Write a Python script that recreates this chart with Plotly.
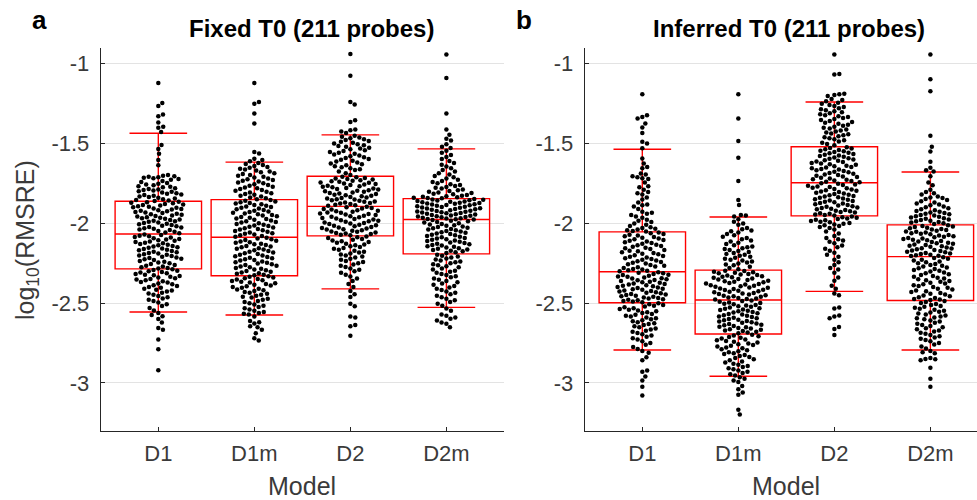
import math
import plotly.graph_objects as go

# ---------------- data ----------------
models = ["D1", "D1m", "D2", "D2m"]
y_ticks = [-3, -2.5, -2, -1.5, -1]
y_tick_text = ["-3", "-2.5", "-2", "-1.5", "-1"]

fixed_D1 = [-1.121, -1.246, -1.265, -1.319, -1.330, -1.369, -1.396, -1.402, -1.428,
    -1.510, -1.534, -1.565, -1.604, -1.636, -1.698, -1.702, -1.705, -1.708, -1.712, -1.715, -1.718, -1.722,
    -1.728, -1.735, -1.742, -1.748, -1.752, -1.758, -1.762, -1.768, -1.772, -1.775, -1.780, -1.785, -1.788,
    -1.792, -1.795, -1.800, -1.803, -1.808, -1.812, -1.815, -1.820, -1.823, -1.828, -1.832, -1.836, -1.840,
    -1.845, -1.850, -1.855, -1.858, -1.861,
    -1.865, -1.868, -1.871, -1.874, -1.879, -1.882, -1.886, -1.889, -1.893, -1.897, -1.900, -1.903, -1.907,
    -1.911, -1.914, -1.918, -1.921, -1.925, -1.929, -1.932, -1.936, -1.940, -1.943, -1.947, -1.951, -1.955,
    -1.958, -1.962, -1.966, -1.969, -1.972, -1.976, -1.980, -1.984, -1.988, -1.991, -1.995, -1.999, -2.003,
    -2.007, -2.011, -2.015, -2.019, -2.023, -2.027, -2.031, -2.035, -2.039, -2.043, -2.048, -2.053, -2.058, -2.063,
    -2.070, -2.074, -2.078, -2.082, -2.086, -2.090, -2.094, -2.098, -2.102, -2.106, -2.110, -2.114, -2.118,
    -2.122, -2.126, -2.130, -2.134, -2.138, -2.142, -2.146, -2.150, -2.154, -2.158, -2.162, -2.166, -2.170,
    -2.174, -2.178, -2.182, -2.186, -2.190, -2.194, -2.198, -2.202, -2.206, -2.210, -2.214, -2.218, -2.222,
    -2.226, -2.231, -2.236, -2.241, -2.246, -2.251, -2.256, -2.261, -2.266, -2.271, -2.276, -2.280, -2.284,
    -2.289, -2.293, -2.297, -2.301, -2.306, -2.309, -2.313, -2.318, -2.322, -2.326, -2.331, -2.335, -2.340,
    -2.344, -2.349, -2.353, -2.358, -2.363, -2.368, -2.372, -2.377, -2.383, -2.388, -2.393, -2.399, -2.404,
    -2.410, -2.416, -2.422, -2.428, -2.435, -2.441, -2.448, -2.456, -2.463, -2.471, -2.479, -2.488, -2.497,
    -2.507, -2.518, -2.531, -2.547,
    -2.562, -2.575, -2.583, -2.600, -2.622, -2.656, -2.668, -2.729, -2.790, -2.921]

fixed_D1m = [-1.121, -1.240, -1.252, -1.313, -1.375, -1.553, -1.563, -1.596, -1.603, -1.611,
    -1.622, -1.628, -1.635, -1.641, -1.648, -1.652, -1.659, -1.664, -1.670, -1.676, -1.681, -1.687, -1.692,
    -1.697, -1.703, -1.708, -1.713, -1.719, -1.724, -1.729, -1.734, -1.739, -1.745, -1.750, -1.755, -1.760,
    -1.765, -1.771, -1.776, -1.781, -1.786, -1.791, -1.797, -1.802, -1.807, -1.812, -1.817, -1.822, -1.828,
    -1.833, -1.839, -1.844, -1.849,
    -1.855, -1.859, -1.864, -1.868, -1.873, -1.877, -1.881, -1.886, -1.890, -1.895, -1.899, -1.903, -1.908,
    -1.912, -1.917, -1.921, -1.926, -1.930, -1.934, -1.939, -1.943, -1.948, -1.952, -1.956, -1.961, -1.965,
    -1.970, -1.974, -1.978, -1.983, -1.987, -1.992, -1.996, -2.000, -2.005, -2.009, -2.014, -2.018, -2.022,
    -2.027, -2.031, -2.036, -2.040, -2.044, -2.049, -2.053, -2.058, -2.062, -2.066, -2.071, -2.075, -2.080, -2.084,
    -2.091, -2.095, -2.100, -2.105, -2.109, -2.114, -2.119, -2.123, -2.128, -2.132, -2.137, -2.142, -2.146,
    -2.151, -2.156, -2.160, -2.165, -2.170, -2.174, -2.179, -2.183, -2.188, -2.193, -2.197, -2.202, -2.207,
    -2.211, -2.216, -2.220, -2.225, -2.230, -2.234, -2.239, -2.244, -2.248, -2.253, -2.257, -2.262, -2.267,
    -2.271, -2.276, -2.281, -2.285, -2.290, -2.294, -2.299, -2.304, -2.308, -2.313, -2.317, -2.322, -2.326,
    -2.332, -2.336, -2.340, -2.345, -2.349, -2.353, -2.358, -2.362, -2.367, -2.371, -2.376, -2.381, -2.385,
    -2.390, -2.395, -2.400, -2.405, -2.410, -2.415, -2.420, -2.425, -2.431, -2.436, -2.442, -2.448, -2.454,
    -2.460, -2.466, -2.473, -2.480, -2.487, -2.494, -2.501, -2.509, -2.517, -2.525, -2.533, -2.541, -2.549,
    -2.556, -2.562, -2.567, -2.572,
    -2.585, -2.612, -2.620, -2.628, -2.645, -2.652, -2.668, -2.690, -2.720, -2.735]

fixed_D2 = [-0.940, -1.075, -1.240, -1.256, -1.355, -1.365, -1.412, -1.418, -1.425, -1.434,
    -1.452, -1.458, -1.463, -1.468, -1.474, -1.479, -1.484, -1.489, -1.495, -1.500, -1.505, -1.511, -1.516,
    -1.521, -1.527, -1.532, -1.537, -1.543, -1.548, -1.553, -1.559, -1.564, -1.570, -1.575, -1.580, -1.586,
    -1.591, -1.597, -1.602, -1.608, -1.613, -1.619, -1.625, -1.631, -1.637, -1.643, -1.649, -1.655, -1.661,
    -1.667, -1.675, -1.686, -1.698,
    -1.709, -1.712, -1.716, -1.719, -1.723, -1.726, -1.730, -1.733, -1.737, -1.740, -1.744, -1.747, -1.751,
    -1.754, -1.758, -1.761, -1.765, -1.768, -1.772, -1.775, -1.779, -1.782, -1.786, -1.789, -1.793, -1.796,
    -1.800, -1.803, -1.807, -1.810, -1.814, -1.817, -1.821, -1.824, -1.828, -1.831, -1.835, -1.838, -1.842,
    -1.845, -1.849, -1.852, -1.856, -1.859, -1.863, -1.866, -1.870, -1.873, -1.877, -1.880, -1.884, -1.887, -1.891,
    -1.897, -1.900, -1.904, -1.907, -1.911, -1.914, -1.918, -1.921, -1.925, -1.928, -1.932, -1.935, -1.939,
    -1.942, -1.946, -1.949, -1.953, -1.956, -1.960, -1.963, -1.967, -1.970, -1.974, -1.977, -1.981, -1.984,
    -1.988, -1.991, -1.995, -1.998, -2.002, -2.005, -2.009, -2.012, -2.016, -2.019, -2.023, -2.026, -2.030,
    -2.033, -2.037, -2.040, -2.044, -2.047, -2.051, -2.054, -2.058, -2.061, -2.065, -2.068, -2.072, -2.076,
    -2.083, -2.088, -2.093, -2.098, -2.103, -2.108, -2.113, -2.118, -2.123, -2.128, -2.133, -2.138, -2.144,
    -2.149, -2.155, -2.160, -2.166, -2.172, -2.178, -2.184, -2.190, -2.196, -2.202, -2.208, -2.215, -2.222,
    -2.229, -2.236, -2.243, -2.250, -2.258, -2.266, -2.274, -2.283, -2.292, -2.301, -2.311, -2.322, -2.334,
    -2.347, -2.362, -2.380, -2.400,
    -2.425, -2.445, -2.462, -2.505, -2.520, -2.585, -2.590, -2.638, -2.645, -2.705]

fixed_D2m = [-0.942, -1.090, -1.313, -1.413, -1.445, -1.470, -1.482, -1.505, -1.520, -1.528,
    -1.545, -1.558, -1.572, -1.585, -1.598, -1.610, -1.622, -1.634, -1.645, -1.656, -1.666, -1.676, -1.686,
    -1.695, -1.704, -1.712, -1.720, -1.728, -1.735, -1.742, -1.749, -1.755, -1.761, -1.767, -1.773, -1.778,
    -1.783, -1.788, -1.793, -1.798, -1.803, -1.807, -1.811, -1.815, -1.819, -1.823, -1.827, -1.831, -1.834,
    -1.837, -1.840, -1.842, -1.844,
    -1.848, -1.851, -1.853, -1.856, -1.858, -1.861, -1.863, -1.866, -1.868, -1.871, -1.873, -1.876, -1.878,
    -1.881, -1.883, -1.886, -1.888, -1.891, -1.893, -1.896, -1.898, -1.901, -1.903, -1.906, -1.908, -1.911,
    -1.913, -1.916, -1.918, -1.921, -1.923, -1.926, -1.928, -1.931, -1.933, -1.936, -1.938, -1.941, -1.943,
    -1.946, -1.948, -1.951, -1.953, -1.956, -1.958, -1.961, -1.963, -1.966, -1.968, -1.971, -1.973, -1.975, -1.976,
    -1.980, -1.984, -1.988, -1.992, -1.996, -2.000, -2.004, -2.008, -2.012, -2.016, -2.020, -2.024, -2.028,
    -2.032, -2.036, -2.040, -2.044, -2.048, -2.052, -2.056, -2.060, -2.064, -2.068, -2.072, -2.076, -2.080,
    -2.084, -2.088, -2.092, -2.096, -2.100, -2.104, -2.108, -2.112, -2.116, -2.120, -2.124, -2.128, -2.132,
    -2.136, -2.140, -2.144, -2.148, -2.152, -2.156, -2.160, -2.164, -2.168, -2.172, -2.176, -2.181, -2.187,
    -2.197, -2.203, -2.209, -2.215, -2.221, -2.227, -2.233, -2.239, -2.245, -2.251, -2.257, -2.263, -2.269,
    -2.276, -2.283, -2.290, -2.297, -2.304, -2.311, -2.318, -2.325, -2.332, -2.339, -2.346, -2.354, -2.362,
    -2.370, -2.378, -2.386, -2.394, -2.402, -2.410, -2.418, -2.427, -2.436, -2.445, -2.454, -2.463, -2.473,
    -2.483, -2.494, -2.505, -2.517,
    -2.535, -2.548, -2.572, -2.580, -2.590, -2.598, -2.610, -2.622, -2.630, -2.652]

inferred_D1 = [-1.192, -1.323, -1.334, -1.344, -1.375, -1.400, -1.434, -1.490, -1.500, -1.530,
    -1.594, -1.625, -1.648, -1.655, -1.688, -1.695, -1.705, -1.712, -1.718, -1.722, -1.745, -1.768, -1.775,
    -1.790, -1.805, -1.812, -1.820, -1.838, -1.852, -1.870, -1.882, -1.888, -1.895, -1.910, -1.928, -1.935,
    -1.940, -1.948, -1.958, -1.965, -1.978, -1.985, -1.992, -2.002, -2.010, -2.018, -2.025, -2.030, -2.035,
    -2.040, -2.044, -2.048, -2.051,
    -2.058, -2.062, -2.067, -2.072, -2.077, -2.081, -2.086, -2.091, -2.096, -2.100, -2.105, -2.110, -2.115,
    -2.119, -2.124, -2.129, -2.134, -2.138, -2.143, -2.148, -2.153, -2.157, -2.162, -2.167, -2.172, -2.176,
    -2.181, -2.186, -2.191, -2.195, -2.200, -2.205, -2.210, -2.214, -2.219, -2.224, -2.229, -2.233, -2.238,
    -2.243, -2.248, -2.252, -2.257, -2.262, -2.267, -2.271, -2.276, -2.281, -2.286, -2.290, -2.294, -2.298, -2.301,
    -2.307, -2.311, -2.314, -2.318, -2.322, -2.325, -2.329, -2.333, -2.336, -2.340, -2.344, -2.347, -2.351,
    -2.355, -2.358, -2.362, -2.366, -2.369, -2.373, -2.377, -2.380, -2.384, -2.388, -2.391, -2.395, -2.399,
    -2.402, -2.406, -2.410, -2.413, -2.417, -2.421, -2.424, -2.428, -2.432, -2.435, -2.439, -2.443, -2.446,
    -2.450, -2.454, -2.457, -2.461, -2.465, -2.468, -2.472, -2.476, -2.479, -2.483, -2.487, -2.491, -2.495,
    -2.502, -2.507, -2.512, -2.517, -2.522, -2.527, -2.532, -2.537, -2.542, -2.547, -2.552, -2.557, -2.563,
    -2.568, -2.574, -2.579, -2.585, -2.590, -2.596, -2.602, -2.608, -2.614, -2.620, -2.626, -2.632, -2.638,
    -2.645, -2.652, -2.659, -2.666, -2.673, -2.680, -2.687, -2.695, -2.703, -2.711, -2.720, -2.729, -2.739,
    -2.750, -2.762, -2.775, -2.788,
    -2.800, -2.812, -2.840, -2.858, -2.922, -2.930, -2.960, -2.985, -3.025, -3.080]

inferred_D1m = [-1.192, -1.344, -1.484, -1.590, -1.736, -1.855, -1.886, -1.948, -1.952, -1.958,
    -1.975, -1.990, -2.002, -2.010, -2.030, -2.038, -2.045, -2.050, -2.058, -2.068, -2.075, -2.085, -2.092,
    -2.100, -2.108, -2.115, -2.122, -2.130, -2.138, -2.145, -2.150, -2.156, -2.162, -2.168, -2.174, -2.180,
    -2.186, -2.192, -2.198, -2.204, -2.210, -2.216, -2.222, -2.228, -2.234, -2.240, -2.246, -2.252, -2.258,
    -2.264, -2.272, -2.280, -2.288,
    -2.297, -2.300, -2.304, -2.307, -2.311, -2.314, -2.318, -2.321, -2.325, -2.328, -2.332, -2.335, -2.339,
    -2.342, -2.346, -2.349, -2.353, -2.356, -2.360, -2.363, -2.367, -2.370, -2.374, -2.377, -2.381, -2.384,
    -2.388, -2.391, -2.395, -2.398, -2.402, -2.405, -2.409, -2.412, -2.416, -2.419, -2.423, -2.426, -2.430,
    -2.433, -2.437, -2.440, -2.444, -2.447, -2.451, -2.454, -2.458, -2.461, -2.465, -2.468, -2.472, -2.475, -2.478,
    -2.484, -2.488, -2.492, -2.496, -2.500, -2.504, -2.508, -2.512, -2.516, -2.520, -2.524, -2.528, -2.532,
    -2.536, -2.540, -2.544, -2.548, -2.552, -2.556, -2.560, -2.564, -2.568, -2.572, -2.576, -2.580, -2.584,
    -2.588, -2.592, -2.596, -2.600, -2.604, -2.608, -2.612, -2.616, -2.620, -2.624, -2.628, -2.632, -2.636,
    -2.640, -2.644, -2.648, -2.652, -2.656, -2.660, -2.664, -2.668, -2.672, -2.676, -2.680, -2.685, -2.690,
    -2.698, -2.703, -2.708, -2.713, -2.718, -2.723, -2.728, -2.733, -2.738, -2.743, -2.748, -2.753, -2.758,
    -2.763, -2.768, -2.773, -2.778, -2.784, -2.790, -2.796, -2.802, -2.808, -2.814, -2.820, -2.826, -2.832,
    -2.838, -2.845, -2.852, -2.859, -2.866, -2.873, -2.880, -2.887, -2.894, -2.901, -2.908, -2.915, -2.922,
    -2.930, -2.938, -2.946, -2.954,
    -2.965, -2.975, -2.985, -2.995, -3.020, -3.040, -3.060, -3.075, -3.168, -3.198]

inferred_D2 = [-0.942, -1.065, -1.068, -1.188, -1.192, -1.196, -1.202, -1.222, -1.228, -1.236,
    -1.245, -1.252, -1.259, -1.266, -1.272, -1.279, -1.285, -1.292, -1.298, -1.304, -1.311, -1.317, -1.323,
    -1.329, -1.335, -1.341, -1.347, -1.353, -1.359, -1.365, -1.371, -1.377, -1.383, -1.389, -1.395, -1.401,
    -1.407, -1.413, -1.419, -1.425, -1.431, -1.437, -1.443, -1.449, -1.455, -1.461, -1.467, -1.473, -1.480,
    -1.487, -1.495, -1.503, -1.512,
    -1.524, -1.528, -1.532, -1.537, -1.541, -1.545, -1.549, -1.554, -1.558, -1.562, -1.566, -1.571, -1.575,
    -1.579, -1.583, -1.588, -1.592, -1.596, -1.600, -1.605, -1.609, -1.613, -1.617, -1.622, -1.626, -1.630,
    -1.634, -1.639, -1.643, -1.647, -1.651, -1.656, -1.660, -1.664, -1.668, -1.673, -1.677, -1.681, -1.685,
    -1.690, -1.694, -1.698, -1.702, -1.707, -1.711, -1.715, -1.719, -1.724, -1.728, -1.732, -1.736, -1.740, -1.743,
    -1.749, -1.753, -1.757, -1.761, -1.765, -1.769, -1.773, -1.777, -1.781, -1.785, -1.789, -1.793, -1.797,
    -1.801, -1.805, -1.809, -1.813, -1.817, -1.821, -1.825, -1.829, -1.833, -1.837, -1.841, -1.845, -1.849,
    -1.853, -1.857, -1.861, -1.865, -1.869, -1.873, -1.877, -1.881, -1.885, -1.889, -1.893, -1.897, -1.901,
    -1.905, -1.909, -1.913, -1.917, -1.921, -1.925, -1.929, -1.933, -1.937, -1.941, -1.945, -1.948, -1.951,
    -1.958, -1.962, -1.966, -1.970, -1.974, -1.978, -1.982, -1.986, -1.990, -1.994, -1.998, -2.003, -2.008,
    -2.013, -2.018, -2.023, -2.030, -2.040, -2.052, -2.065, -2.080, -2.092, -2.100, -2.108, -2.116, -2.125,
    -2.140, -2.150, -2.160, -2.172, -2.185, -2.198, -2.210, -2.228, -2.245, -2.262, -2.280, -2.290, -2.310,
    -2.340, -2.360, -2.392, -2.410,
    -2.440, -2.452, -2.528, -2.535, -2.578, -2.585, -2.595, -2.650, -2.662, -2.700]

inferred_D2m = [-0.942, -1.098, -1.173, -1.452, -1.520, -1.550, -1.615, -1.652, -1.668, -1.676,
    -1.705, -1.745, -1.762, -1.790, -1.805, -1.812, -1.820, -1.832, -1.838, -1.842, -1.848, -1.855, -1.862,
    -1.870, -1.876, -1.882, -1.888, -1.895, -1.900, -1.906, -1.912, -1.918, -1.923, -1.928, -1.932, -1.936,
    -1.940, -1.944, -1.948, -1.952, -1.956, -1.960, -1.964, -1.968, -1.972, -1.976, -1.980, -1.984, -1.988,
    -1.992, -1.996, -2.000, -2.005,
    -2.013, -2.017, -2.021, -2.024, -2.028, -2.032, -2.036, -2.039, -2.043, -2.047, -2.051, -2.054, -2.058,
    -2.062, -2.066, -2.069, -2.073, -2.077, -2.081, -2.084, -2.088, -2.092, -2.096, -2.099, -2.103, -2.107,
    -2.111, -2.114, -2.118, -2.122, -2.126, -2.129, -2.133, -2.137, -2.141, -2.144, -2.148, -2.152, -2.156,
    -2.159, -2.163, -2.167, -2.171, -2.174, -2.178, -2.182, -2.186, -2.189, -2.193, -2.197, -2.200, -2.203, -2.206,
    -2.213, -2.218, -2.223, -2.229, -2.234, -2.239, -2.245, -2.250, -2.255, -2.261, -2.266, -2.271, -2.277,
    -2.282, -2.287, -2.293, -2.298, -2.303, -2.309, -2.314, -2.319, -2.325, -2.330, -2.335, -2.341, -2.346,
    -2.351, -2.357, -2.362, -2.367, -2.373, -2.378, -2.383, -2.389, -2.394, -2.399, -2.405, -2.410, -2.415,
    -2.421, -2.426, -2.431, -2.437, -2.442, -2.447, -2.453, -2.458, -2.463, -2.469, -2.474, -2.478, -2.481,
    -2.488, -2.494, -2.500, -2.506, -2.512, -2.518, -2.524, -2.530, -2.536, -2.542, -2.548, -2.554, -2.560,
    -2.566, -2.572, -2.578, -2.584, -2.590, -2.596, -2.602, -2.609, -2.616, -2.623, -2.630, -2.637, -2.644,
    -2.651, -2.658, -2.665, -2.672, -2.679, -2.686, -2.693, -2.700, -2.708, -2.716, -2.724, -2.732, -2.740,
    -2.750, -2.760, -2.772, -2.785,
    -2.800, -2.808, -2.815, -2.845, -2.850, -2.852, -2.858, -2.905, -2.975, -3.025]

# box statistics
fixed_upper = [-1.436, -1.617, -1.446, -1.534]
fixed_q3 = [-1.8625, -1.852, -1.706, -1.846]
fixed_median = [-2.067, -2.0875, -1.894, -1.977]
fixed_q1 = [-2.286, -2.329, -2.079, -2.192]
fixed_lower = [-2.556, -2.575, -2.411, -2.527]

inferred_upper = [-1.536, -1.961, -1.240, -1.679]
inferred_q3 = [-2.054, -2.294, -1.521, -2.010]
inferred_median = [-2.304, -2.481, -1.746, -2.209]
inferred_q1 = [-2.498, -2.694, -1.954, -2.484]
inferred_lower = [-2.794, -2.959, -2.427, -2.794]

# ---------------- layout geometry (pixels) ----------------
W, H = 977, 500
PLOT_TOP, PLOT_BOTTOM = 47.7, 430.7
L_LEFT, L_RIGHT = 100.7, 504.0
R_LEFT = 584.7
Y_RANGE = [-3.3, -0.9]
X_RANGE_L = [0.4, 4.6]
PX_PER_X = (L_RIGHT - L_LEFT) / (X_RANGE_L[1] - X_RANGE_L[0])
X_RANGE_R = [0.4, 0.4 + (W - R_LEFT) / PX_PER_X]
PX_PER_Y = (PLOT_BOTTOM - PLOT_TOP) / (Y_RANGE[1] - Y_RANGE[0])


def swarm_offsets(vals, d=5.0):
    """Deterministic beeswarm layout: x offsets (data units) so dots do not overlap."""
    n = len(vals)
    order = sorted(range(n), key=lambda i: (i * 0.6180339887) % 1.0)
    placed = []
    xs = [0.0] * n
    for i in order:
        y = vals[i] * PX_PER_Y
        cands = [0.0]
        near = [(px, py) for (px, py) in placed if abs(py - y) < d]
        for px, py in near:
            dx = math.sqrt(d * d - (py - y) ** 2)
            cands += [px + dx, px - dx]
        cands.sort(key=abs)
        x = cands[-1]
        for c in cands:
            if all((c - px) ** 2 + (y - py) ** 2 >= d * d - 1e-6 for px, py in near):
                x = c
                break
        placed.append((x, y))
        xs[i] = x / PX_PER_X
    return xs


fig = go.Figure()

panels = [
    ("x", "y", [fixed_D1, fixed_D1m, fixed_D2, fixed_D2m],
     fixed_q1, fixed_median, fixed_q3, fixed_lower, fixed_upper),
    ("x2", "y2", [inferred_D1, inferred_D1m, inferred_D2, inferred_D2m],
     inferred_q1, inferred_median, inferred_q3, inferred_lower, inferred_upper),
]

for xa, ya, cols, q1, med, q3, lo, up in panels:
    positions = list(range(1, len(models) + 1))
    fig.add_trace(go.Box(
        x=positions, q1=q1, median=med, q3=q3, lowerfence=lo, upperfence=up,
        width=0.9, whiskerwidth=0.667, boxpoints=False,
        line=dict(color="#ff0000", width=1.4), fillcolor="rgba(0,0,0,0)",
        xaxis=xa, yaxis=ya, showlegend=False, hoverinfo="skip"))
    for k, vals in enumerate(cols):
        offs = swarm_offsets(vals)
        fig.add_trace(go.Scatter(
            x=[positions[k] + o for o in offs], y=vals, mode="markers",
            marker=dict(color="black", size=4.5, line=dict(width=0)),
            xaxis=xa, yaxis=ya, showlegend=False, hoverinfo="y"))

TXT = "#3a3a3a"
AX = "#262626"
FONT = "Liberation Sans, Arial, sans-serif"

xcommon = dict(tickvals=[1, 2, 3, 4], ticktext=models, ticks="inside", ticklen=4,
               tickcolor=AX, showline=True, linecolor=AX, linewidth=1, showgrid=False,
               zeroline=False, tickfont=dict(size=22, color=TXT, family=FONT),
               ticklabelstandoff=3)
ycommon = dict(range=Y_RANGE, tickvals=y_ticks, ticktext=y_tick_text, ticks="inside",
               ticklen=4, tickcolor=AX, showline=True, linecolor=AX, linewidth=1,
               showgrid=True, gridcolor="#e3e3e3", gridwidth=1, zeroline=False,
               tickfont=dict(size=22, color=TXT, family=FONT), ticklabelstandoff=6,
               domain=[1 - PLOT_BOTTOM / H, 1 - PLOT_TOP / H])

fig.update_layout(
    width=W, height=H, autosize=False,
    margin=dict(l=0, r=0, t=0, b=0),
    paper_bgcolor="white", plot_bgcolor="white",
    font=dict(family=FONT, color=TXT),
    xaxis=dict(domain=[L_LEFT / W, L_RIGHT / W], range=X_RANGE_L, anchor="y", **xcommon),
    yaxis=dict(anchor="x", **ycommon),
    xaxis2=dict(domain=[R_LEFT / W, 1.0], range=X_RANGE_R, anchor="y2", **xcommon),
    yaxis2=dict(anchor="x2", **ycommon),
)


def ann(text, px, py, size, color=TXT, bold=False, angle=0):
    fig.add_annotation(text=("<b>%s</b>" % text) if bold else text,
                       x=px / W, y=1 - py / H, xref="paper", yref="paper",
                       xanchor="center", yanchor="middle", showarrow=False,
                       textangle=angle, font=dict(size=size, color=color, family=FONT))


ann("Fixed T0 (211 probes)", 311, 28, 24, color="black", bold=True)
ann("Inferred T0 (211 probes)", 788.5, 28, 24, color="black", bold=True)
ann("a", 39, 20, 26, color="black", bold=True)
ann("b", 524, 20, 26, color="black", bold=True)
ann("Model", 302, 486, 25)
ann("Model", 786, 486, 25)
ann("log<sub>10</sub>(RMSRE)", 27, 240, 25, angle=-90)

fig.write_html("out.html")
